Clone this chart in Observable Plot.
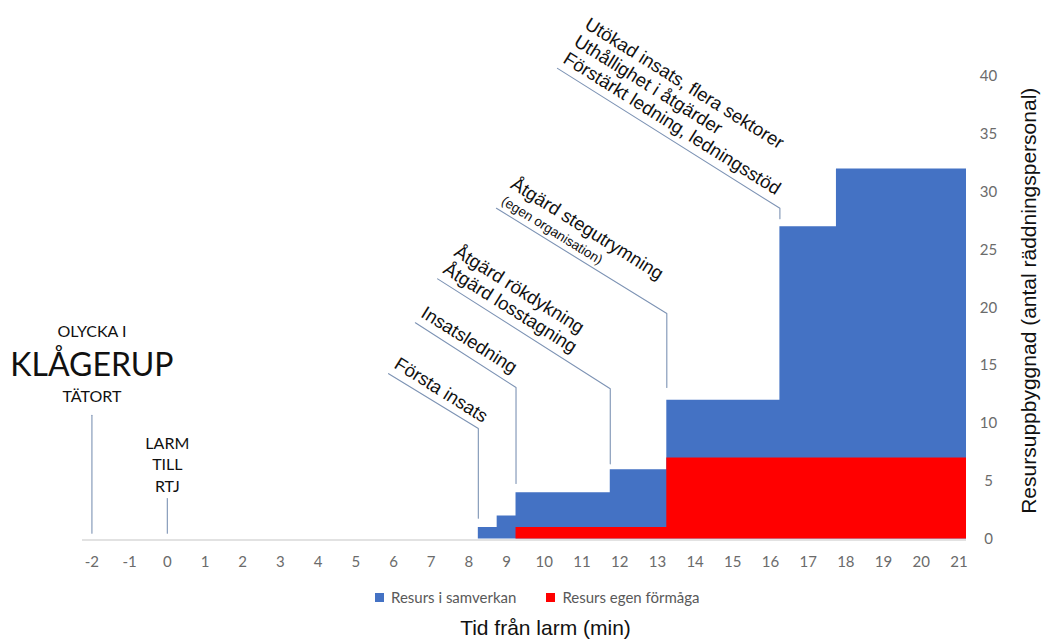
<!DOCTYPE html>
<html>
<head>
<meta charset="utf-8">
<script src="https://cdn.jsdelivr.net/npm/d3@7"></script>
<script src="https://cdn.jsdelivr.net/npm/@observablehq/plot@0.6"></script>
<style>
  body { margin: 0; background: white; }
  #wrap { position: relative; width: 1046px; height: 639px; overflow: hidden; background: white; }
  #wrap > svg { position: absolute; left: 0; top: 0; }
  .lg-swatches { position: absolute; left: 375px; top: 588px; height: 18px; min-height: 18px !important;
    margin: 0 !important; font-family: Lato, sans-serif !important; font-size: 15px !important; color: #595959; }
  .lg-swatch { margin-right: 30px !important; }
  .lg-swatch > svg { margin-right: 7px !important; }
</style>
</head>
<body>
<div id="wrap"></div>
<script>
// ---- data ----
const seriesNames = ["Resurs i samverkan", "Resurs egen förmåga"];
const seriesColors = ["#4472C4", "#FF0000"];

// step starts (minutes after alarm) and level (number of personnel)
const samverkanX = [8.25, 8.75, 9.25, 11.75, 13.25, 16.25, 17.75, 21.2];
const samverkanY = [1, 2, 4, 6, 12, 27, 32, 32];
const egenX = [9.25, 13.25, 21.2];
const egenY = [1, 7, 7];

const xTicks = [-2, -1, 0, 1, 2, 3, 4, 5, 6, 7, 8, 9, 10, 11, 12, 13, 14, 15, 16, 17, 18, 19, 20, 21];
const yTicks = [0, 5, 10, 15, 20, 25, 30, 35, 40];

const xTitle = "Tid från larm (min)";
const yTitle = "Resursuppbyggnad (antal räddningspersonal)";

// event annotations: label, leader line (x in minutes, y in personnel units)
const eventLabels = [
  "Första insats",
  "Insatsledning",
  "Åtgärd rökdykning\nÅtgärd losstagning",
  "",
  "Utökad insats, flera sektorer\nUthållighet i åtgärder\nFörstärkt ledning, ledningsstöd"
];
const leaderX = [
  [5.87, 8.25, 8.25],
  [6.58, 9.25, 9.25],
  [7.17, 11.75, 11.75],
  [8.73, 13.25, 13.25],
  [10.35, 16.25, 16.25]
];
const leaderY = [
  [14.3, 9.55, 1.8],
  [18.7, 13.1, 4.8],
  [22.5, 13.0, 6.5],
  [28.6, 19.5, 13.1],
  [40.7, 28.6, 27.7]
];
const stegLabel = "Åtgärd stegutrymning";
const stegNote = "(egen organisation)";

// left-hand annotations
const startLabels = ["OLYCKA I", "KLÅGERUP", "TÄTORT", "LARM\nTILL\nRTJ"];
const startX = [-2, -2, -2, 0];
const startY = [17.45, 14.14, 11.83, 4.05];
const startLineX = [-2, 0];
const startLineY = [[0.5, 10.7], [0.5, 3.5]];

// ---- build tables ----
const samverkan = samverkanX.map((x, i) => ({x, y: samverkanY[i]}));
const egen = egenX.map((x, i) => ({x, y: egenY[i]}));
const leaders = [];
leaderX.forEach((xs, k) => xs.forEach((x, j) => leaders.push({k, x, y: leaderY[k][j]})));
startLineX.forEach((x, k) => startLineY[k].forEach(y => leaders.push({k: "s" + k, x, y})));
const events = eventLabels.map((t, k) => ({t, x: leaderX[k][0], y: leaderY[k][0]})).filter(d => d.t);
const steg = {x: leaderX[3][0], y: leaderY[3][0]};
const starts = startLabels.map((t, i) => ({t, x: startX[i], y: startY[i]}));

const annFont = "'Liberation Sans', Arial, sans-serif";
const leaderColor = "#7d93b4";

const chart = Plot.plot({
  width: 1046,
  height: 639,
  marginLeft: 82,
  marginRight: 80,
  marginTop: 76,
  marginBottom: 100.5,
  x: {domain: [-2.25, 21.2]},
  y: {domain: [0, 40]},
  style: {fontFamily: "Lato, sans-serif", fontSize: "15px", color: "#595959", background: "white", overflow: "visible"},
  marks: [
    Plot.ruleY([0], {stroke: "#d9d9d9", strokeWidth: 1.5, dy: 1}),
    Plot.areaY(samverkan, {x: "x", y: "y", curve: "step-after", fill: seriesColors[0]}),
    Plot.areaY(egen, {x: "x", y: "y", curve: "step-after", fill: seriesColors[1]}),
    Plot.axisX({ticks: xTicks, tickFormat: d => String(d), tickSize: 0, tickPadding: 17, fill: "#6b6b6b", label: null}),
    Plot.axisY({ticks: yTicks, anchor: "right", tickFormat: d => String(d), tickSize: 0, tickPadding: 22, textAnchor: "middle", fill: "#6b6b6b", label: null}),
    Plot.line(leaders, {x: "x", y: "y", z: "k", stroke: leaderColor, strokeWidth: 1.1}),
    Plot.text(events, {x: "x", y: "y", text: "t", rotate: 32, textAnchor: "start", lineAnchor: "bottom",
      lineHeight: 1.1, fontSize: 18.5, fontFamily: annFont, fill: "#111", dx: 4.5, dy: -6.5}),
    Plot.text([stegNote], {x: () => steg.x, y: () => steg.y, text: d => d, rotate: 32, textAnchor: "start", lineAnchor: "bottom",
      fontSize: 13.5, fontFamily: annFont, fill: "#111", dx: 4, dy: -5}),
    Plot.text([stegLabel], {x: () => steg.x, y: () => steg.y, text: d => d, rotate: 32, textAnchor: "start", lineAnchor: "bottom",
      fontSize: 18.5, fontFamily: annFont, fill: "#111", dx: 13, dy: -21}),
    Plot.text(starts.filter(d => d.t !== "KLÅGERUP"), {x: "x", y: "y", text: "t", textAnchor: "middle", lineAnchor: "bottom",
      lineHeight: 1.36, fontSize: 16, fontFamily: "Lato, sans-serif", fill: "#111"}),
    Plot.text(starts.filter(d => d.t === "KLÅGERUP"), {x: "x", y: "y", text: "t", textAnchor: "middle", lineAnchor: "bottom",
      fontSize: 32, fontFamily: "Lato, sans-serif", fill: "#111"}),
    Plot.text([xTitle], {frameAnchor: "bottom", text: d => d, textAnchor: "middle", lineAnchor: "bottom", dx: 21, dy: 96,
      fontSize: 21, fontFamily: annFont, fill: "#111"}),
    Plot.text([yTitle], {frameAnchor: "right", text: d => d, rotate: -90, textAnchor: "middle", lineAnchor: "middle", dx: 63, dy: -7,
      fontSize: 21, fontFamily: annFont, fill: "#111"})
  ]
});

const legend = Plot.legend({
  color: {type: "categorical", domain: seriesNames, range: seriesColors},
  legend: "swatches",
  swatchSize: 9,
  className: "lg"
});

const wrap = document.getElementById("wrap");
wrap.appendChild(chart);
wrap.appendChild(legend);
</script>
</body>
</html>
